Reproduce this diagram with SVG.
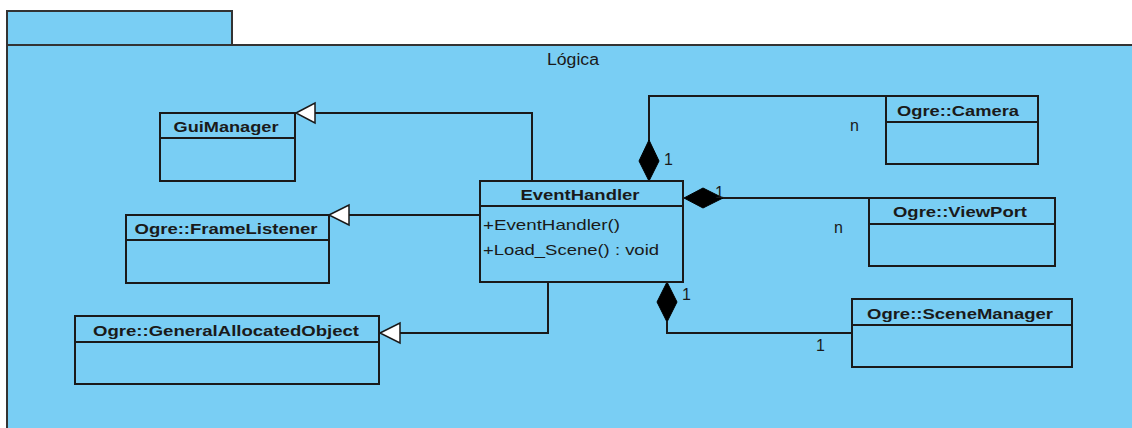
<svg xmlns="http://www.w3.org/2000/svg" width="1132" height="428" viewBox="0 0 1132 428">
  <style>
    .pkg { fill: #79CEF4; stroke: #333; stroke-width: 2; }
    .cls { fill: #79CEF4; stroke: #1a1a1a; stroke-width: 2; }
    .div { stroke: #1a1a1a; stroke-width: 2; }
    .name { font-family: "Liberation Sans", Arial, sans-serif; font-weight: bold; font-size: 15px; fill: #1a1a1a; text-anchor: middle; }
    .op { font-family: "Liberation Sans", Arial, sans-serif; font-size: 15px; fill: #1a1a1a; }
    .lbl { font-family: "Liberation Sans", Arial, sans-serif; font-size: 16px; fill: #1a1a1a; }
    .edge { fill: none; stroke: #1a1a1a; stroke-width: 2; }
    .gen { fill: #ffffff; stroke: #1a1a1a; stroke-width: 1.5; }
    .comp { fill: #000; stroke: #000; stroke-width: 1; }
  </style>

  <!-- package -->
  <g id="pkg-logica">
    <rect class="pkg" x="7" y="11" width="225" height="34"/>
    <rect class="pkg" x="7" y="45" width="1135" height="400"/>
    <text class="lbl" x="573" y="65" text-anchor="middle" textLength="52" lengthAdjust="spacingAndGlyphs">Lógica</text>
  </g>

  <!-- connectors -->
  <g id="connectors">
    <!-- generalizations -->
    <polyline class="edge" points="532,181 532,113 315,113"/>
    <polygon class="gen" points="296,113 315,103 315,123"/>
    <polyline class="edge" points="480,215 349,215"/>
    <polygon class="gen" points="329,215 349,205 349,225"/>
    <polyline class="edge" points="548,282 548,333 400,333"/>
    <polygon class="gen" points="380,333 400,323 400,343"/>
    <!-- compositions -->
    <polyline class="edge" points="649,141 649,96 886,96"/>
    <polygon class="comp" points="649,181 659,161 649,140 639,161"/>
    <polyline class="edge" points="722,198 869,198"/>
    <polygon class="comp" points="684,198 703,188 723,198 703,208"/>
    <polyline class="edge" points="667,322 667,333 852,333"/>
    <polygon class="comp" points="667,282 677,302 667,322 657,302"/>
    <!-- multiplicities -->
    <text class="lbl" x="664" y="165">1</text>
    <text class="lbl" x="850" y="131">n</text>
    <text class="lbl" x="715" y="198">1</text>
    <text class="lbl" x="834" y="233">n</text>
    <text class="lbl" x="682" y="300">1</text>
    <text class="lbl" x="816" y="351">1</text>
  </g>

  <g id="GuiManager">
    <rect class="cls" x="160" y="113" width="135" height="68"/>
    <line class="div" x1="160" y1="138" x2="295" y2="138"/>
    <text class="name" x="226" y="132" textLength="105" lengthAdjust="spacingAndGlyphs">GuiManager</text>
  </g>

  <g id="FrameListener">
    <rect class="cls" x="126" y="215" width="203" height="68"/>
    <line class="div" x1="126" y1="240" x2="329" y2="240"/>
    <text class="name" x="226" y="234" textLength="183" lengthAdjust="spacingAndGlyphs">Ogre::FrameListener</text>
  </g>

  <g id="GeneralAllocatedObject">
    <rect class="cls" x="75" y="316" width="304" height="68"/>
    <line class="div" x1="75" y1="342" x2="379" y2="342"/>
    <text class="name" x="226" y="336" textLength="266" lengthAdjust="spacingAndGlyphs">Ogre::GeneralAllocatedObject</text>
  </g>

  <g id="EventHandler">
    <rect class="cls" x="480" y="181" width="203" height="101"/>
    <line class="div" x1="480" y1="206" x2="683" y2="206"/>
    <text class="name" x="580" y="200" textLength="119" lengthAdjust="spacingAndGlyphs">EventHandler</text>
    <text class="op" x="483" y="230" textLength="137" lengthAdjust="spacingAndGlyphs">+EventHandler()</text>
    <text class="op" x="483" y="255" textLength="176" lengthAdjust="spacingAndGlyphs">+Load_Scene() : void</text>
  </g>

  <g id="Camera">
    <rect class="cls" x="886" y="96" width="152" height="68"/>
    <line class="div" x1="886" y1="122" x2="1038" y2="122"/>
    <text class="name" x="958" y="116" textLength="122" lengthAdjust="spacingAndGlyphs">Ogre::Camera</text>
  </g>

  <g id="ViewPort">
    <rect class="cls" x="869" y="198" width="186" height="68"/>
    <line class="div" x1="869" y1="224" x2="1055" y2="224"/>
    <text class="name" x="960" y="217" textLength="134" lengthAdjust="spacingAndGlyphs">Ogre::ViewPort</text>
  </g>

  <g id="SceneManager">
    <rect class="cls" x="852" y="299" width="220" height="68"/>
    <line class="div" x1="852" y1="325" x2="1072" y2="325"/>
    <text class="name" x="960" y="319" textLength="186" lengthAdjust="spacingAndGlyphs">Ogre::SceneManager</text>
  </g>
</svg>
